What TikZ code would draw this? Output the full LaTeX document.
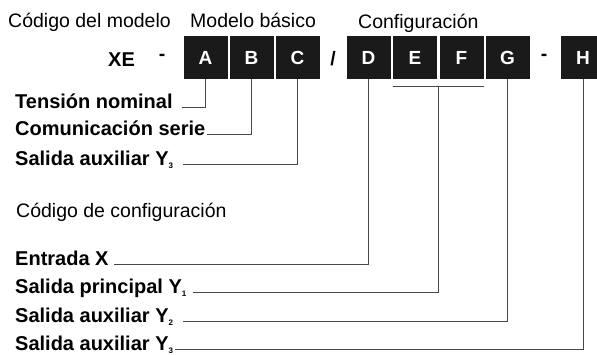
\documentclass[tikz,border=0pt]{standalone}
\usepackage{fontspec}
\setmainfont{Liberation Sans}
\usetikzlibrary{calc}
\definecolor{caja}{HTML}{1A1A1A}
\definecolor{linea}{HTML}{474747}
\newcommand{\anchoCaja}{44}
\newcommand{\altoCaja}{43}
\newcommand{\filaCaja}{57.5}
\newcommand{\subi}[1]{\raisebox{-3pt}{\fontsize{8}{8}\selectfont #1}}

\begin{document}
\begin{tikzpicture}[x=1pt, y=-1pt,
	texto/.style={anchor=base west, inner sep=0, font=\fontsize{19.5}{23}\selectfont},
	etiqueta/.style={texto, font=\fontsize{20}{24}\selectfont\bfseries},
	signo/.style={anchor=base, inner sep=0, font=\fontsize{19.5}{23}\selectfont\bfseries},
	letra/.style={rectangle, fill=caja, text=white, inner sep=0, minimum width=\anchoCaja, minimum height=\altoCaja, font=\fontsize{19}{23}\selectfont\bfseries},
	guia/.style={draw=linea, line width=0.9}]
	\useasboundingbox (0,0) rectangle (597,354);
	\node[texto] (cmodelo) at (8,27) {Código del modelo};
	\node[texto] (basico) at (190,27) {Modelo básico};
	\node[texto] (config) at (358,28) {Configuración};
	\node[etiqueta] (xe) at (108,66) {XE};
	\node[signo] (guion1) at (162,60) {-};
	\node[signo] (barra) at (333,65) {/};
	\node[signo] (guion2) at (544,60) {-};
	\foreach \nom/\x in {A/205.5,B/251.5,C/297.5,D/368.5,E/415,F/461.5,G/507.5,H/583}{
		\node[letra] (\nom) at (\x,\filaCaja) {\nom};
		}
	\draw[guia] ([yshift=-7pt]E.south west) -- ([yshift=-7pt]F.south east);
	\coordinate (EF) at ([yshift=-7pt]$(E.south)!0.5!(F.south)$);
	\node[etiqueta] (tension) at (15,108) {Tensión nominal};
	\node[etiqueta] (comunic) at (15,135) {Comunicación serie};
	\node[etiqueta] (auxC) at (15,165) {Salida auxiliar Y\subi{3}};
	\node[texto] (cconfig) at (16,217) {Código de configuración};
	\node[etiqueta] (entrada) at (15,265) {Entrada X};
	\node[etiqueta] (principal) at (15,293) {Salida principal Y\subi{1}};
	\node[etiqueta] (auxG) at (15,322) {Salida auxiliar Y\subi{2}};
	\node[etiqueta] (auxH) at (15,350) {Salida auxiliar Y\subi{3}};
	\draw[guia] ([xshift=9pt,yshift=0.5pt]tension.base east) -| (A.south);
	\draw[guia] ([xshift=2pt,yshift=0.5pt]comunic.base east) -| (B.south);
	\draw[guia] ([xshift=10pt,yshift=0.5pt]auxC.base east) -| (C.south);
	\draw[guia] ([xshift=5pt,yshift=0.5pt]entrada.base east) -| (D.south);
	\draw[guia] ([xshift=6pt,yshift=0.5pt]principal.base east) -| (EF);
	\draw[guia] ([xshift=10pt,yshift=0.5pt]auxG.base east) -| (G.south);
	\draw[guia] ([xshift=2pt,yshift=0.5pt]auxH.base east) -| (H.south);
\end{tikzpicture}
\end{document}
